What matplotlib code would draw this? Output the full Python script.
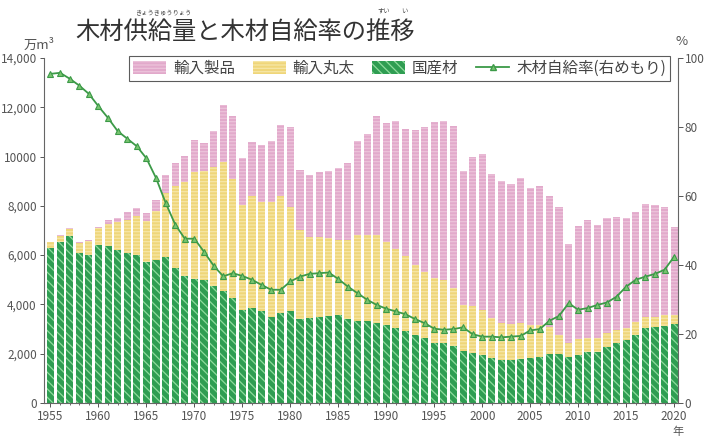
import matplotlib
matplotlib.use("Agg")
import matplotlib.pyplot as plt
from matplotlib.patches import Patch
from matplotlib.lines import Line2D
from matplotlib.ticker import FixedLocator

plt.rcParams['font.family'] = ['Noto Sans CJK JP', 'DejaVu Sans']
plt.rcParams['hatch.linewidth'] = 0.9

# 年
years = list(range(1955, 2021))

# 国産材 (万m3)
domestic = [6290, 6520, 6790, 6090, 6020, 6390, 6360, 6220, 6090, 6020,
            5710, 5780, 5910, 5480, 5140, 5030, 5000, 4740, 4530, 4260,
            3750, 3840, 3710, 3500, 3640, 3730, 3400, 3440, 3480, 3530,
            3560, 3400, 3340, 3340, 3260, 3170, 3020, 2920, 2760, 2630,
            2450, 2420, 2310, 2110, 2040, 1950, 1810, 1750, 1750, 1790,
            1840, 1880, 1980, 1980, 1880, 1950, 2060, 2080, 2250, 2420,
            2560, 2760, 3030, 3070, 3130, 3190]

# 輸入丸太 (万m3)
logs = [230, 270, 250, 410, 570, 710, 910, 1110, 1350, 1560,
        1660, 2000, 2610, 3320, 3820, 4330, 4400, 4830, 5240, 4830,
        4290, 4540, 4460, 4670, 4740, 4240, 3620, 3310, 3270, 3150,
        3060, 3220, 3480, 3480, 3560, 3380, 3220, 3050, 2840, 2700,
        2630, 2570, 2340, 1870, 1900, 1800, 1630, 1510, 1460, 1440,
        1330, 1290, 1090, 780, 540, 630, 570, 550, 580, 520,
        470, 510, 470, 430, 430, 380]

# 輸入製品 (万m3)
products = [30, 30, 60, 20, 10, 40, 170, 180, 300, 340,
            340, 470, 710, 940, 1050, 1300, 1130, 1460, 2340, 2550,
            1890, 2200, 2300, 2480, 2910, 3220, 2440, 2510, 2640, 2740,
            2930, 3110, 3790, 4090, 4830, 4830, 5220, 5140, 5480, 5860,
            6340, 6470, 6570, 5440, 6030, 6360, 5860, 5730, 5670, 5890,
            5540, 5650, 5310, 5180, 4030, 4610, 4800, 4580, 4690, 4610,
            4470, 4480, 4580, 4540, 4380, 3560]

# 木材自給率 (%)
rate = [95.4, 95.7, 94.0, 92.0, 89.6, 86.0, 82.6, 78.8, 76.6, 74.4,
        70.9, 65.2, 58.0, 51.7, 47.6, 47.6, 43.8, 39.8, 36.7, 37.6,
        36.8, 35.7, 34.2, 32.8, 32.8, 35.2, 36.6, 37.4, 37.6, 37.8,
        35.9, 33.7, 31.8, 29.9, 28.4, 27.3, 26.5, 25.7, 24.3, 23.1,
        21.5, 21.2, 21.4, 21.9, 19.9, 19.2, 19.2, 19.0, 19.2, 19.4,
        21.0, 21.4, 23.8, 25.2, 28.9, 27.0, 27.5, 28.4, 29.1, 30.8,
        33.7, 35.7, 36.6, 37.4, 38.6, 42.4]

left_ticks = [0, 2000, 4000, 6000, 8000, 10000, 12000, 14000]
left_labels = ['0', '2,000', '4,000', '6,000', '8,000', '10000', '12,000', '14,000']
right_ticks = [0, 20, 40, 60, 80, 100]
x_ticks = list(range(1955, 2021, 5))

c_pink = '#e2a9cb'
c_yellow = '#efd67a'
c_green = '#2f9d52'
c_line = '#3c9a48'
c_marker = '#79c470'
c_text = '#555555'

fig = plt.figure(figsize=(7.06, 4.36), dpi=100)
ax = fig.add_axes([0.062, 0.076, 0.899, 0.791])

bottom2 = [d + l for d, l in zip(domestic, logs)]
ax.bar(years, domestic, width=0.74, color=c_green, edgecolor='#8edb9c',
       hatch='\\\\\\\\', linewidth=0)
ax.bar(years, logs, width=0.74, bottom=domestic, color=c_yellow,
       edgecolor='#f6e6a6', hatch='-----', linewidth=0)
ax.bar(years, products, width=0.74, bottom=bottom2, color=c_pink,
       edgecolor='#ecc3da', hatch='-----', linewidth=0)

ax.set_xlim(1954.3, 2020.45)
ax.set_ylim(0, 14000)
ax.set_yticks(left_ticks)
ax.set_yticklabels(left_labels)
ax.set_xticks(x_ticks)
ax.set_xticklabels([str(y) for y in x_ticks])
ax.xaxis.set_minor_locator(FixedLocator(years))
ax.tick_params(axis='both', colors=c_text, labelsize=8.5, length=3, width=0.7, pad=2)
ax.tick_params(axis='x', which='minor', length=1.5, color=c_text)
ax.spines['top'].set_visible(False)
ax.spines['right'].set_visible(False)
for s in ('left', 'bottom'):
    ax.spines[s].set_color('#666666')
    ax.spines[s].set_linewidth(0.8)

ax2 = ax.twinx()
ax2.plot(years, rate, color=c_line, lw=1.3, marker='^', markersize=5,
         markerfacecolor=c_marker, markeredgecolor=c_line, markeredgewidth=0.8)
ax2.set_ylim(0, 100)
ax2.set_yticks(right_ticks)
ax2.tick_params(axis='y', colors=c_text, labelsize=8.5, length=3.5, width=0.7, pad=1)
for s in ('top', 'left', 'bottom'):
    ax2.spines[s].set_visible(False)
ax2.spines['right'].set_color('#666666')
ax2.spines['right'].set_linewidth(0.8)

handles = [
    Patch(facecolor=c_pink, edgecolor='#ecc3da', hatch='-----', linewidth=0),
    Patch(facecolor=c_yellow, edgecolor='#f6e6a6', hatch='-----', linewidth=0),
    Patch(facecolor=c_green, edgecolor='#8edb9c', hatch='\\\\\\\\', linewidth=0),
    Line2D([], [], color=c_line, lw=1.3, marker='^', markersize=5,
           markerfacecolor=c_marker, markeredgecolor=c_line),
]
labels = ['輸入製品', '輸入丸太', '国産材', '木材自給率(右めもり)']
leg = fig.legend(handles, labels, loc='center', bbox_to_anchor=(0.566, 0.843),
                 ncol=4, fontsize=11.2, frameon=True, fancybox=False,
                 handlelength=2.1, handleheight=0.9, handletextpad=0.45,
                 columnspacing=1.15, borderpad=0.25, labelcolor='#444444')
leg.get_frame().set_edgecolor('#333333')
leg.get_frame().set_linewidth(0.8)
leg.set_zorder(10)

# タイトルとふりがな
fig.text(0.106, 0.926, '木材供給量と木材自給率の推移', fontsize=17.5,
         color='#333333', ha='left', va='center')
fig.text(0.231, 0.972, 'きょうきゅうりょう', fontsize=4.5, color='#444444',
         ha='center', va='center')
fig.text(0.544, 0.975, 'すい', fontsize=4.5, color='#444444', ha='center', va='center')
fig.text(0.573, 0.975, 'い', fontsize=4.5, color='#444444', ha='center', va='center')

fig.text(0.055, 0.897, '万m³', fontsize=9.5, color=c_text, ha='center', va='center')
fig.text(0.966, 0.905, '%', fontsize=9.5, color=c_text, ha='center', va='center')
fig.text(0.960, 0.010, '年', fontsize=8, color=c_text, ha='center', va='center')

fig.savefig('out.png', dpi=100)
